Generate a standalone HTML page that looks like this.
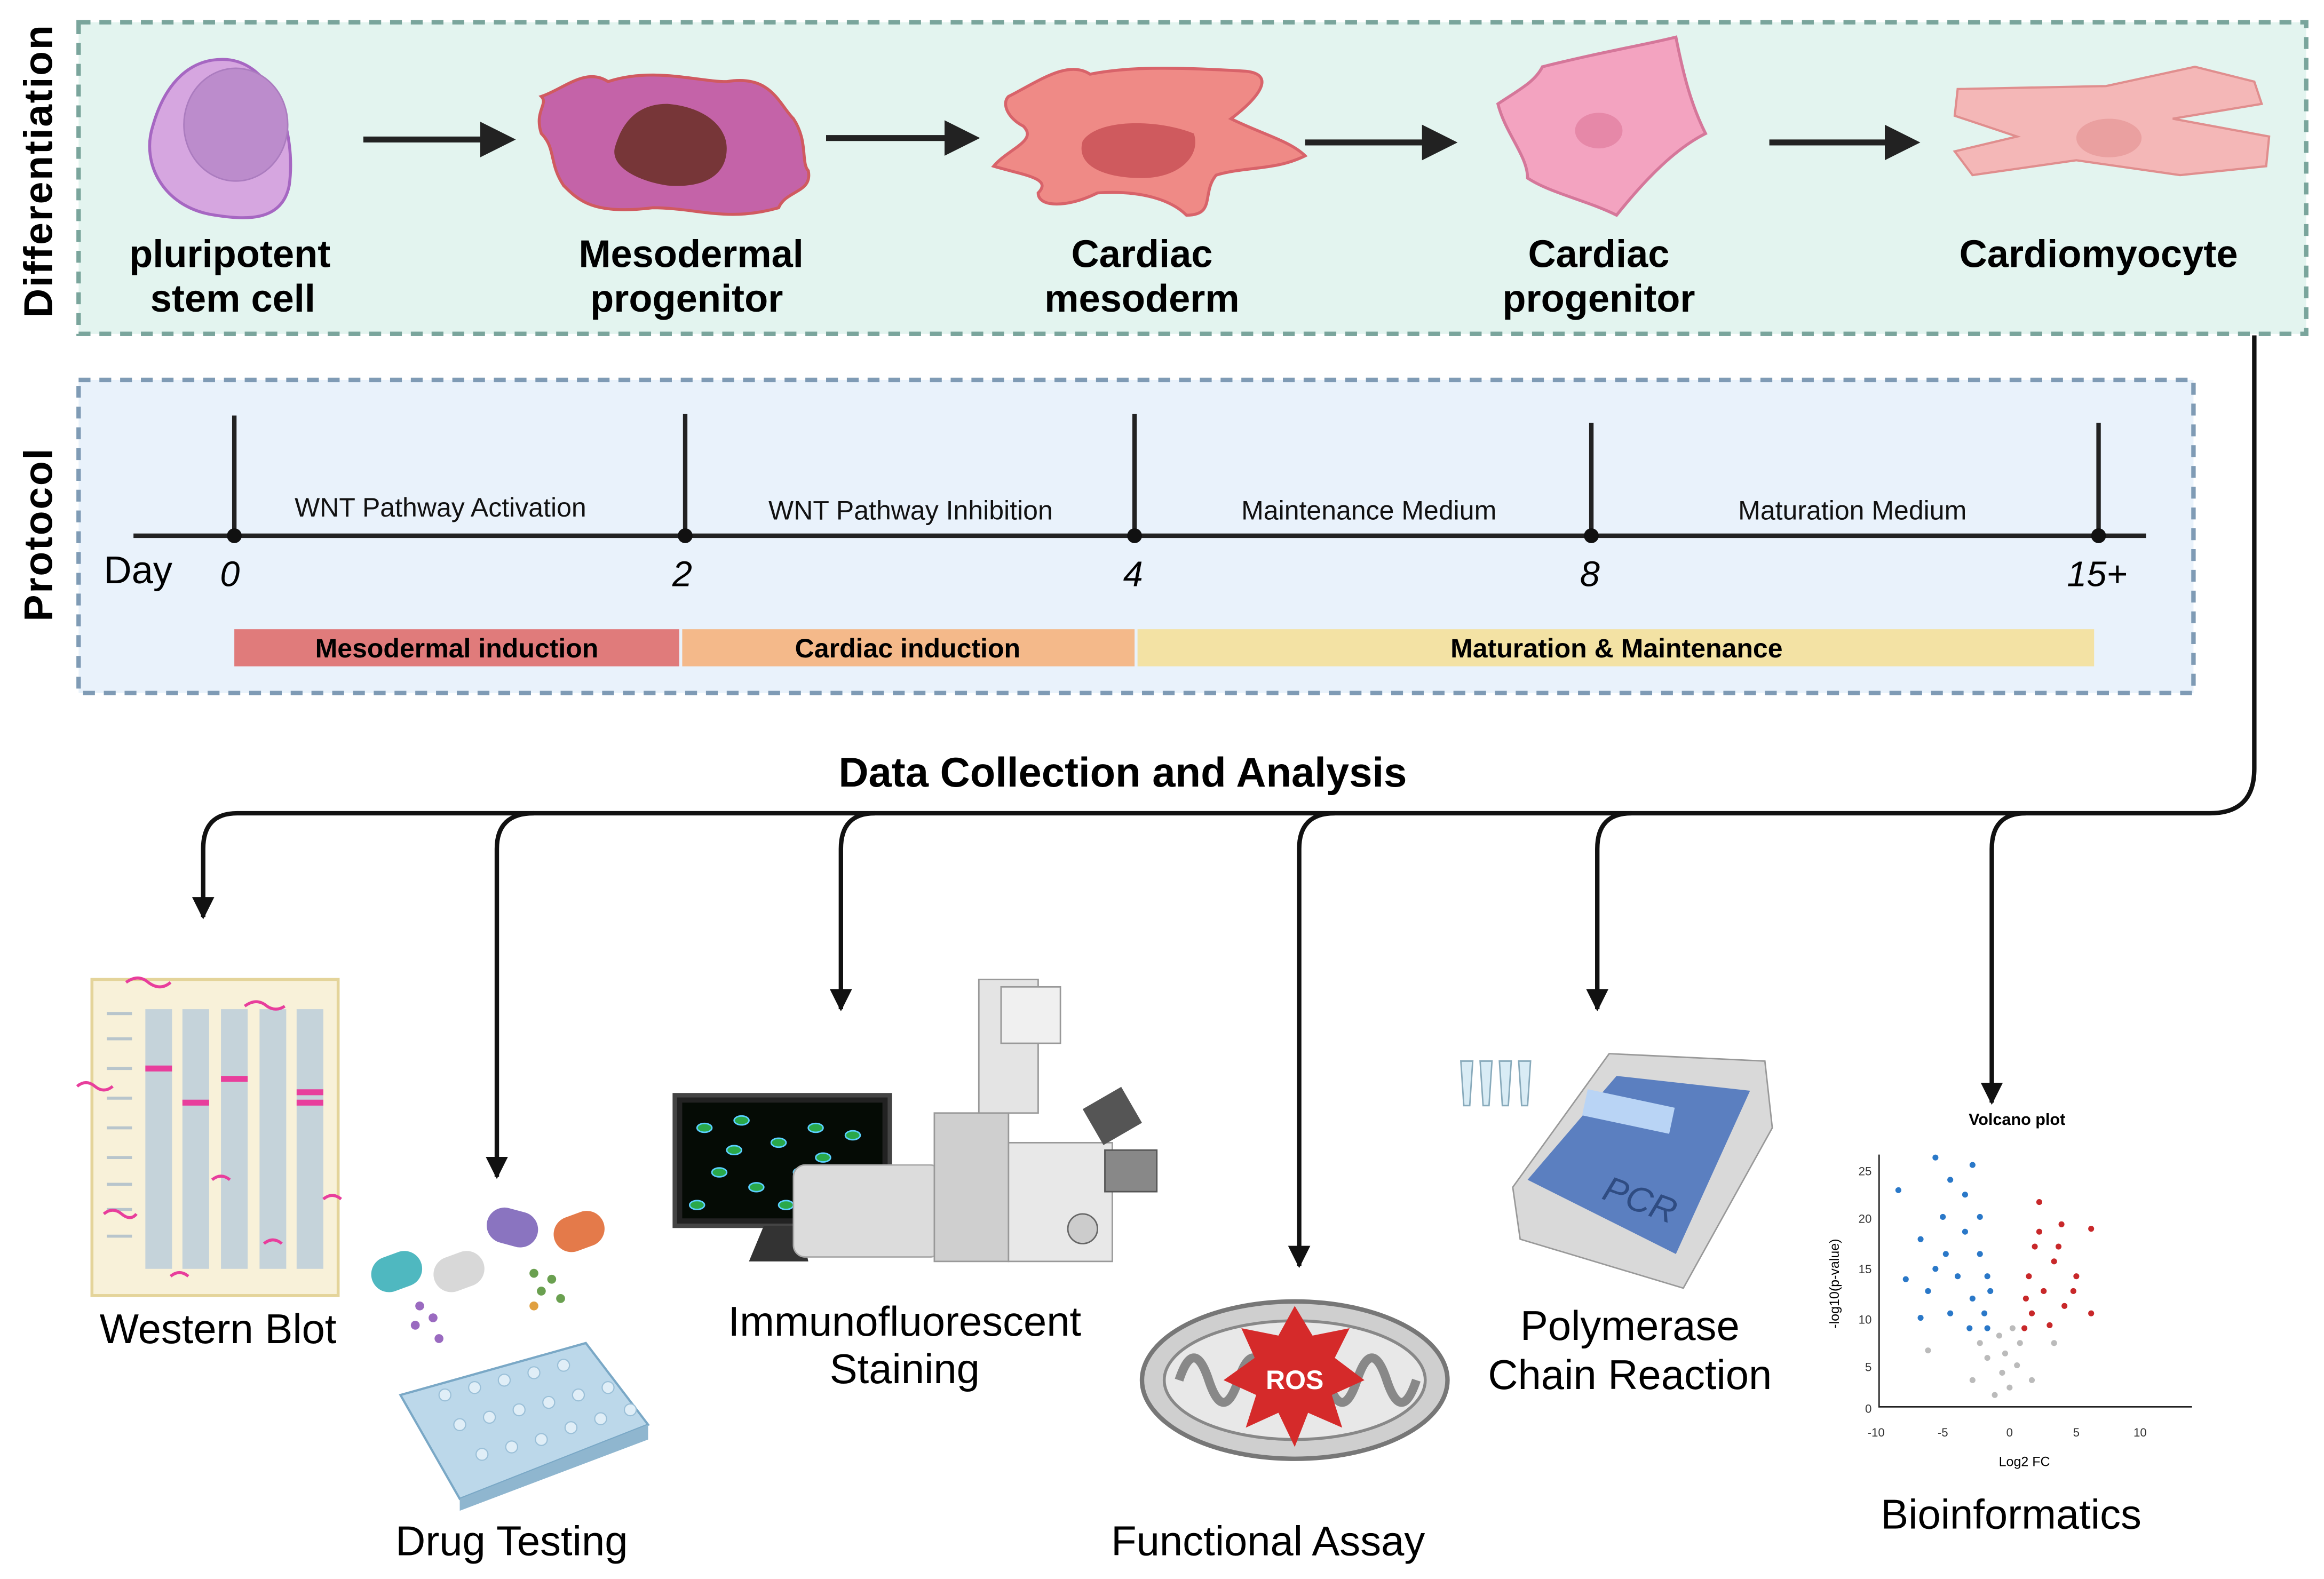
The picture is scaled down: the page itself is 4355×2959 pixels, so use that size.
<!DOCTYPE html>
<html><head><meta charset="utf-8"><style>
html,body{margin:0;padding:0;background:#fff}
svg{display:block}
text{font-family:"Liberation Sans",Arial,sans-serif}
</style></head><body>
<svg width="4355" height="2959" viewBox="0 0 1567 1064" preserveAspectRatio="none" xmlns="http://www.w3.org/2000/svg">
<defs>
<marker id="ah" viewBox="0 0 10 10" refX="9" refY="5" markerWidth="5" markerHeight="5" orient="auto"><path d="M0,0 L10,5 L0,10 z" fill="#111"/></marker>
<marker id="ah2" viewBox="0 0 10 10" refX="8" refY="5" markerWidth="6" markerHeight="6" orient="auto"><path d="M0,0 L10,5 L0,10 z" fill="#222"/></marker>
</defs>
<rect x="53" y="15" width="1502" height="210" fill="#e3f4ef" stroke="#7aa59c" stroke-width="3" stroke-dasharray="8,6"/>
<text transform="translate(35,115) rotate(-90)" text-anchor="middle" font-size="27" font-weight="bold" letter-spacing="1">Differentiation</text>
<path d="M150,40 C185,40 200,90 195,125 C190,150 165,148 145,145 C110,140 95,110 103,85 C110,60 125,40 150,40 z" fill="#d6a6e0" stroke="#a667c2" stroke-width="2"/>
<ellipse cx="159" cy="84" rx="35" ry="38" fill="#bc8ccc" stroke="#ab7cbf"/>
<path d="M365,65 C380,60 395,45 410,55 C440,45 470,55 490,55 C520,50 525,70 535,80 C545,95 540,110 545,115 C548,130 530,128 525,140 C490,150 470,140 440,140 C400,145 390,135 380,125 C370,110 375,100 365,90 C360,75 370,70 365,65 z" fill="#c463a8" stroke="#d05a60" stroke-width="2"/>
<path d="M415,98 C420,82 430,70 450,70 C475,72 490,85 490,100 C490,118 475,127 450,125 C430,122 410,112 415,98 z" fill="#773638"/>
<path d="M680,65 C700,55 720,40 735,50 C760,45 790,45 840,48 C860,50 850,65 830,80 C850,90 870,95 880,105 C860,115 840,112 820,118 C810,130 820,145 800,145 C790,135 770,128 740,130 C720,140 700,140 700,130 C710,120 690,118 670,112 C680,100 700,95 690,85 C680,80 675,70 680,65 z" fill="#ef8a86" stroke="#d8636a" stroke-width="2"/>
<path d="M730,95 C740,80 780,80 805,90 C810,105 795,120 770,120 C745,120 725,112 730,95 z" fill="#cf5a5e"/>
<path d="M1040,45 C1080,35 1110,30 1130,25 C1135,50 1140,70 1150,90 C1130,100 1110,120 1090,145 C1070,135 1045,130 1030,120 C1030,105 1015,90 1010,70 C1025,60 1035,55 1040,45 z" fill="#f3a3c0" stroke="#d5779a" stroke-width="2"/>
<ellipse cx="1078" cy="88" rx="16" ry="12" fill="#e688a8"/>
<path d="M1320,60 L1420,58 L1480,45 L1520,55 L1525,70 L1465,80 L1530,92 L1528,112 L1470,118 L1400,108 L1330,118 L1318,102 L1360,92 L1318,78 z" fill="#f4b7b7" stroke="#e08e8e" stroke-width="1.5"/>
<ellipse cx="1422" cy="93" rx="22" ry="13" fill="#eaa0a0"/>
<g stroke="#222" stroke-width="4" marker-end="url(#ah2)">
<line x1="245" y1="94" x2="343" y2="94"/>
<line x1="557" y1="93" x2="656" y2="93"/>
<line x1="880" y1="96" x2="978" y2="96"/>
<line x1="1193" y1="96" x2="1290" y2="96"/>
</g>
<g font-size="26" font-weight="bold" text-anchor="middle">
<text x="155" y="180">pluripotent</text><text x="157" y="210">stem cell</text>
<text x="466" y="180">Mesodermal</text><text x="463" y="210">progenitor</text>
<text x="770" y="180">Cardiac</text><text x="770" y="210">mesoderm</text>
<text x="1078" y="180">Cardiac</text><text x="1078" y="210">progenitor</text>
<text x="1415" y="180">Cardiomyocyte</text>
</g>
<rect x="53" y="256" width="1426" height="211" fill="#e9f2fb" stroke="#7f9bb5" stroke-width="3" stroke-dasharray="8,6"/>
<text transform="translate(35,360) rotate(-90)" text-anchor="middle" font-size="27" font-weight="bold" letter-spacing="1">Protocol</text>
<g stroke="#222" stroke-width="3">
<line x1="90" y1="361" x2="1447" y2="361"/>
<line x1="158" y1="280" x2="158" y2="361"/>
<line x1="462" y1="279" x2="462" y2="361"/>
<line x1="765" y1="279" x2="765" y2="361"/>
<line x1="1073" y1="285" x2="1073" y2="361"/>
<line x1="1415" y1="285" x2="1415" y2="361"/>
</g>
<g fill="#111"><circle cx="158" cy="361" r="5"/><circle cx="462" cy="361" r="5"/><circle cx="765" cy="361" r="5"/><circle cx="1073" cy="361" r="5"/><circle cx="1415" cy="361" r="5"/></g>
<g font-size="18" text-anchor="middle" fill="#111">
<text x="297" y="348">WNT Pathway Activation</text>
<text x="614" y="350">WNT Pathway Inhibition</text>
<text x="923" y="350">Maintenance Medium</text>
<text x="1249" y="350">Maturation Medium</text>
</g>
<text x="70" y="393" font-size="26">Day</text>
<g font-size="24" font-style="italic" text-anchor="middle">
<text x="155" y="395">0</text><text x="460" y="395">2</text><text x="764" y="395">4</text><text x="1072" y="395">8</text><text x="1414" y="395">15+</text>
</g>
<rect x="158" y="424" width="300" height="25" fill="#e07b7b"/>
<rect x="460" y="424" width="305" height="25" fill="#f4b98a"/>
<rect x="767" y="424" width="645" height="25" fill="#f3e2a4"/>
<g font-size="18" font-weight="bold" text-anchor="middle">
<text x="308" y="443">Mesodermal induction</text>
<text x="612" y="443">Cardiac induction</text>
<text x="1090" y="443">Maturation &amp; Maintenance</text>
</g>
<text x="757" y="530" font-size="28" font-weight="bold" text-anchor="middle">Data Collection and Analysis</text>
<g stroke="#111" stroke-width="3" fill="none">
<path d="M1520,226 L1520,518 Q1520,548 1490,548 L160,548 Q137,548 137,572 L137,618" marker-end="url(#ah)"/>
<path d="M360,548 Q335,548 335,572 L335,793" marker-end="url(#ah)"/>
<path d="M590,548 Q567,548 567,572 L567,680" marker-end="url(#ah)"/>
<path d="M900,548 Q876,548 876,572 L876,853" marker-end="url(#ah)"/>
<path d="M1100,548 Q1077,548 1077,572 L1077,680" marker-end="url(#ah)"/>
<path d="M1366,548 Q1343,548 1343,572 L1343,743" marker-end="url(#ah)"/>
</g>
<rect x="62" y="660" width="166" height="213" fill="#f8f1d9" stroke="#e4d49a" stroke-width="2"/>
<g fill="#c5d3da"><rect x="98" y="680" width="18" height="175"/><rect x="123" y="680" width="18" height="175"/><rect x="149" y="680" width="18" height="175"/><rect x="175" y="680" width="18" height="175"/><rect x="200" y="680" width="18" height="175"/></g>
<g stroke="#b8c5cc" stroke-width="2"><line x1="72" y1="683" x2="89" y2="683"/><line x1="72" y1="700" x2="89" y2="700"/><line x1="72" y1="720" x2="89" y2="720"/><line x1="72" y1="740" x2="89" y2="740"/><line x1="72" y1="760" x2="89" y2="760"/><line x1="72" y1="780" x2="89" y2="780"/><line x1="72" y1="798" x2="89" y2="798"/><line x1="72" y1="815" x2="89" y2="815"/><line x1="72" y1="833" x2="89" y2="833"/></g>
<g fill="#e83e9c"><rect x="98" y="718" width="18" height="4"/><rect x="123" y="741" width="18" height="4"/><rect x="149" y="725" width="18" height="4"/><rect x="200" y="734" width="18" height="4"/><rect x="200" y="741" width="18" height="4"/></g>
<g stroke="#e83e9c" stroke-width="2" fill="none"><path d="M85,662 q8,-6 15,0 q8,6 15,0"/><path d="M165,678 q8,-6 15,0 q6,4 12,0"/><path d="M52,732 q6,-5 12,0 q6,5 12,0"/><path d="M143,795 q6,-5 12,0"/><path d="M70,818 q6,-5 12,0 q6,5 10,0"/><path d="M115,860 q6,-5 12,0"/><path d="M178,838 q6,-5 12,0"/><path d="M218,808 q6,-5 12,0"/></g>
<text x="147" y="905" font-size="28" text-anchor="middle">Western Blot</text>
<path d="M270,940 L395,905 L437,960 L310,1010 z" fill="#bcd8ea" stroke="#7aa8c6" stroke-width="1.5"/>
<path d="M310,1010 L437,960 L437,970 L310,1018 z" fill="#8fb6cf"/>
<g fill="#e0eef7" stroke="#9bc0d8" stroke-width="0.8">
<circle cx="300" cy="940" r="4"/><circle cx="320" cy="935" r="4"/><circle cx="340" cy="930" r="4"/><circle cx="360" cy="925" r="4"/><circle cx="380" cy="920" r="4"/>
<circle cx="310" cy="960" r="4"/><circle cx="330" cy="955" r="4"/><circle cx="350" cy="950" r="4"/><circle cx="370" cy="945" r="4"/><circle cx="390" cy="940" r="4"/><circle cx="410" cy="935" r="4"/>
<circle cx="325" cy="980" r="4"/><circle cx="345" cy="975" r="4"/><circle cx="365" cy="970" r="4"/><circle cx="385" cy="962" r="4"/><circle cx="405" cy="956" r="4"/><circle cx="425" cy="950" r="4"/>
</g>
<rect x="250" y="845" width="35" height="24" rx="12" fill="#4fb8c0" transform="rotate(-20 267 857)"/>
<rect x="292" y="845" width="35" height="24" rx="12" fill="#d8d8d8" transform="rotate(-20 309 857)"/>
<rect x="328" y="815" width="35" height="24" rx="12" fill="#8a74c0" transform="rotate(15 345 827)"/>
<rect x="373" y="818" width="35" height="24" rx="12" fill="#e47a4a" transform="rotate(-20 390 830)"/>
<g fill="#9a6ac0"><circle cx="283" cy="880" r="3"/><circle cx="292" cy="888" r="3"/><circle cx="280" cy="893" r="3"/><circle cx="296" cy="902" r="3"/></g>
<g fill="#6aa050"><circle cx="360" cy="858" r="3"/><circle cx="372" cy="862" r="3"/><circle cx="365" cy="870" r="3"/><circle cx="378" cy="875" r="3"/><circle cx="360" cy="880" r="3" fill="#e0a040"/></g>
<text x="345" y="1048" font-size="28" text-anchor="middle">Drug Testing</text>
<rect x="455" y="738" width="145" height="88" fill="#222" stroke="#444" stroke-width="3"/>
<rect x="460" y="743" width="135" height="78" fill="#050b05"/>
<g fill="#2aa84a" stroke="#5ad0ff" stroke-width="1">
<ellipse cx="475" cy="760" rx="5" ry="3"/><ellipse cx="500" cy="755" rx="5" ry="3"/><ellipse cx="525" cy="770" rx="5" ry="3"/><ellipse cx="550" cy="760" rx="5" ry="3"/><ellipse cx="575" cy="765" rx="5" ry="3"/>
<ellipse cx="485" cy="790" rx="5" ry="3"/><ellipse cx="510" cy="800" rx="5" ry="3"/><ellipse cx="540" cy="790" rx="5" ry="3"/><ellipse cx="565" cy="805" rx="5" ry="3"/><ellipse cx="585" cy="790" rx="5" ry="3"/>
<ellipse cx="470" cy="812" rx="5" ry="3"/><ellipse cx="530" cy="812" rx="5" ry="3"/><ellipse cx="555" cy="780" rx="5" ry="3"/><ellipse cx="495" cy="775" rx="5" ry="3"/>
</g>
<path d="M515,826 L540,826 L545,850 L505,850 z" fill="#333"/>
<rect x="535" y="785" width="100" height="62" rx="8" fill="#dcdcdc" stroke="#aaa"/>
<rect x="630" y="750" width="50" height="100" fill="#cfcfcf" stroke="#999"/>
<rect x="660" y="660" width="40" height="90" fill="#e4e4e4" stroke="#999"/>
<rect x="675" y="665" width="40" height="38" fill="#f0f0f0" stroke="#999"/>
<rect x="680" y="770" width="70" height="80" fill="#e8e8e8" stroke="#999"/>
<circle cx="730" cy="828" r="10" fill="#ccc" stroke="#666"/>
<rect x="735" y="738" width="30" height="28" fill="#555" transform="rotate(-30 750 752)"/>
<rect x="745" y="775" width="35" height="28" fill="#888" stroke="#555"/>
<text x="610" y="900" font-size="28" text-anchor="middle">Immunofluorescent</text>
<text x="610" y="932" font-size="28" text-anchor="middle">Staining</text>
<ellipse cx="873" cy="930" rx="103" ry="53" fill="#cfcfcf" stroke="#777" stroke-width="3"/>
<ellipse cx="873" cy="930" rx="88" ry="40" fill="#e8e8e8" stroke="#888" stroke-width="2"/>
<path d="M795,930 q10,-30 20,0 q10,30 20,0 q10,-30 20,0 q10,30 20,0 q10,-30 20,0 q10,30 20,0 q10,-30 20,0 q10,30 20,0" fill="none" stroke="#888" stroke-width="6"/>
<polygon points="873,880 885,900 910,895 900,915 920,930 898,940 905,962 882,952 873,975 862,952 840,962 847,940 825,930 846,915 837,895 862,900" fill="#d52a2a"/>
<text x="873" y="936" font-size="18" font-weight="bold" fill="#fff" text-anchor="middle">ROS</text>
<text x="855" y="1048" font-size="28" text-anchor="middle">Functional Assay</text>
<path d="M1020,800 L1085,710 L1190,715 L1195,760 L1135,868 L1025,835 z" fill="#d9d9d9" stroke="#999"/>
<path d="M1030,795 L1090,725 L1180,735 L1130,845 z" fill="#5b7fc0"/>
<rect x="1068" y="740" width="60" height="18" fill="#b9d4f5" transform="rotate(12 1098 749)"/>
<text x="1082" y="808" font-size="24" font-style="italic" fill="#2f4c82" transform="rotate(20 1082 800)">PCR</text>
<g fill="#d9ecf5" stroke="#8ab"><path d="M985,715 l8,0 l-2,30 l-4,0 z"/><path d="M998,715 l8,0 l-2,30 l-4,0 z"/><path d="M1011,715 l8,0 l-2,30 l-4,0 z"/><path d="M1024,715 l8,0 l-2,30 l-4,0 z"/></g>
<text x="1099" y="903" font-size="28" text-anchor="middle">Polymerase</text>
<text x="1099" y="936" font-size="28" text-anchor="middle">Chain Reaction</text>
<text x="1360" y="758" font-size="11" font-weight="bold" text-anchor="middle">Volcano plot</text>
<path d="M1267,778 L1267,948 L1478,948" fill="none" stroke="#222" stroke-width="1"/>
<g font-size="8" fill="#333" text-anchor="end"><text x="1262" y="792">25</text><text x="1262" y="824">20</text><text x="1262" y="858">15</text><text x="1262" y="892">10</text><text x="1262" y="924">5</text><text x="1262" y="952">0</text></g>
<g font-size="8" fill="#333" text-anchor="middle"><text x="1265" y="968">-10</text><text x="1310" y="968">-5</text><text x="1355" y="968">0</text><text x="1400" y="968">5</text><text x="1443" y="968">10</text></g>
<text x="1365" y="988" font-size="9" text-anchor="middle">Log2 FC</text>
<text transform="translate(1240,865) rotate(-90)" font-size="9" text-anchor="middle">-log10(p-value)</text>
<g fill="#bbb"><circle cx="1345" cy="940" r="2"/><circle cx="1355" cy="935" r="2"/><circle cx="1350" cy="925" r="2"/><circle cx="1360" cy="920" r="2"/><circle cx="1340" cy="915" r="2"/><circle cx="1362" cy="905" r="2"/><circle cx="1335" cy="905" r="2"/><circle cx="1352" cy="912" r="2"/><circle cx="1370" cy="930" r="2"/><circle cx="1330" cy="930" r="2"/><circle cx="1300" cy="910" r="2"/><circle cx="1385" cy="905" r="2"/><circle cx="1348" cy="900" r="2"/><circle cx="1357" cy="895" r="2"/></g>
<g fill="#2a78c8"><circle cx="1280" cy="802" r="2"/><circle cx="1305" cy="780" r="2"/><circle cx="1315" cy="795" r="2"/><circle cx="1330" cy="785" r="2"/><circle cx="1295" cy="835" r="2"/><circle cx="1310" cy="820" r="2"/><circle cx="1325" cy="830" r="2"/><circle cx="1335" cy="845" r="2"/><circle cx="1340" cy="860" r="2"/><circle cx="1320" cy="860" r="2"/><circle cx="1300" cy="870" r="2"/><circle cx="1285" cy="862" r="2"/><circle cx="1330" cy="875" r="2"/><circle cx="1338" cy="885" r="2"/><circle cx="1315" cy="885" r="2"/><circle cx="1295" cy="888" r="2"/><circle cx="1342" cy="870" r="2"/><circle cx="1325" cy="805" r="2"/><circle cx="1312" cy="845" r="2"/><circle cx="1335" cy="820" r="2"/><circle cx="1305" cy="855" r="2"/><circle cx="1328" cy="895" r="2"/><circle cx="1340" cy="895" r="2"/></g>
<g fill="#c8282a"><circle cx="1375" cy="810" r="2"/><circle cx="1390" cy="825" r="2"/><circle cx="1410" cy="828" r="2"/><circle cx="1372" cy="840" r="2"/><circle cx="1385" cy="850" r="2"/><circle cx="1400" cy="860" r="2"/><circle cx="1368" cy="860" r="2"/><circle cx="1378" cy="870" r="2"/><circle cx="1392" cy="880" r="2"/><circle cx="1410" cy="885" r="2"/><circle cx="1370" cy="885" r="2"/><circle cx="1382" cy="893" r="2"/><circle cx="1365" cy="895" r="2"/><circle cx="1398" cy="870" r="2"/><circle cx="1375" cy="830" r="2"/><circle cx="1388" cy="840" r="2"/><circle cx="1366" cy="875" r="2"/></g>
<text x="1356" y="1030" font-size="28" text-anchor="middle">Bioinformatics</text>
</svg>
</body></html>
